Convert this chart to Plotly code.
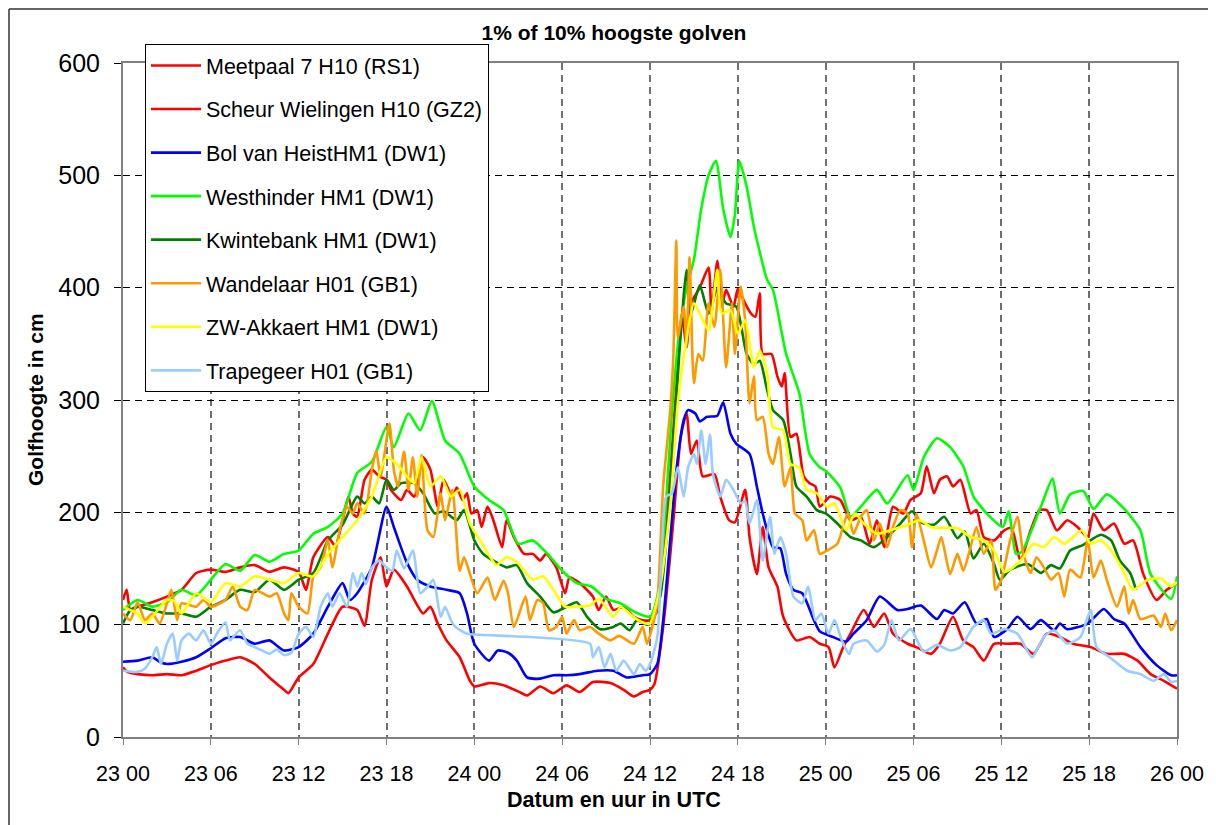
import plotly.graph_objects as go

# ---------------- data (hours since 23 00 UTC, wave height in cm) ----------------
tick_hours = [0, 6, 12, 18, 24, 30, 36, 42, 48, 54, 60, 66, 72]
tick_labels = ["23 00", "23 06", "23 12", "23 18", "24 00", "24 06", "24 12",
               "24 18", "25 00", "25 06", "25 12", "25 18", "26 00"]

meetpaal_t = [0, 0.25, 0.5, 1, 2, 3, 4, 5, 6, 7, 8, 9, 10, 11, 12, 12.5, 13, 14, 14.5, 15, 15.4, 15.7,
              16, 16.5, 17, 17.5, 18, 18.3, 19, 19.4, 19.9, 20.5, 21, 21.5, 21.9, 22.5, 22.8, 23.2, 23.5,
              23.8, 24.2, 24.5, 24.9, 25.3, 25.9, 26.2, 26.7, 27.4, 28, 28.5, 28.9, 29.6, 30.2, 30.5, 31.2,
              32.1, 32.5, 33, 33.5, 34.2, 34.9, 35.5, 36, 36.5, 36.9, 37.4, 37.8, 38.2, 38.5, 38.8, 39.4,
              40, 40.2, 40.6, 40.9, 41.2, 41.7, 42, 42.5, 42.9, 43.2, 43.5, 43.7, 44.3, 44.7, 45, 45.2,
              45.6, 46, 46.5, 46.9, 47.3, 47.6, 48.3, 49, 49.7, 50.4, 51, 51.5, 52, 52.6, 53.3, 53.8, 54.5,
              54.9, 55.4, 55.8, 56.3, 56.7, 57.2, 57.9, 58.3, 58.8, 59.5, 60.2, 60.7, 61.3, 62, 62.6, 63.1,
              63.8, 64.5, 65.2, 65.9, 66.3, 67, 67.7, 68.4, 69, 69.7, 70.6, 71.3, 72]
meetpaal_v = [122, 131, 113, 116, 120, 125, 131, 146, 149, 147, 151, 153, 147, 151, 147, 131, 160, 178, 170, 193, 214, 199,
              196, 229, 238, 232, 229, 220, 211, 220, 214, 249, 238, 205, 229, 214, 222, 211, 217,
              199, 202, 187, 205, 193, 169, 193, 178, 163, 163, 157, 163, 151, 128, 142, 137,
              125, 113, 125, 113, 116, 107, 104, 104, 112, 163, 237, 312, 374, 347, 386, 400,
              418, 377, 424, 383, 398, 383, 399, 386, 377, 374, 395, 341, 341, 321, 312, 324,
              267, 270, 232, 226, 223, 205, 214, 211, 193, 196, 172, 193, 169, 205, 199, 211, 217,
              241, 217, 229, 232, 223, 229, 199, 202, 178, 175, 184, 186, 157, 184, 202, 202,
              184, 193, 187, 178, 199, 184, 190, 172, 175, 145, 122, 131, 137]

scheur_t = [0, 0.3, 1, 2, 3, 4, 5, 6, 7, 8, 9, 10, 11, 11.3, 12, 13, 14, 15, 16, 16.5, 17, 17.6, 18, 18.5,
            19.4, 19.9, 20.5, 21, 21.5, 22.1, 23, 23.7, 24, 25, 26, 27.1, 27.6, 28.5, 29.4, 30.3, 31.2, 32.1,
            33.3, 34.2, 34.9, 35.5, 36, 36.3, 36.9, 37.6, 38.1, 38.5, 38.8, 39.2, 39.6, 40.4, 40.8, 41.4,
            41.8, 42.5, 42.8, 43.3, 43.7, 44.1, 44.7, 45.1, 46, 46.9, 47.6, 48.2, 48.6, 49.2, 49.7, 50.6,
            51.3, 52, 52.6, 53.6, 54.2, 55.2, 55.8, 56.7, 57.4, 58.1, 58.8, 59.5, 60.4, 61.3, 62.2, 63.1,
            64, 64.9, 66.1, 67.2, 68.4, 69.3, 70.2, 71.1, 72]
scheur_v = [62, 58, 56, 55, 56, 55, 59, 64, 68, 71, 65, 53, 42, 39, 53, 65, 92, 116, 113, 99, 140, 160, 134, 149,
            134, 122, 110, 116, 101, 86, 71, 50, 45, 48, 46, 40, 37, 45, 39, 46, 40, 49,
            48, 42, 36, 40, 42, 47, 98, 193, 267, 288, 252, 264, 232, 234, 214, 193,
            191, 220, 178, 145, 187, 151, 134, 107, 86, 89, 83, 80, 62, 80, 92, 113,
            98, 110, 92, 83, 80, 74, 83, 107, 86, 80, 68, 83, 83, 83, 74, 92,
            89, 83, 80, 74, 74, 68, 56, 50, 43]

heist_t = [0, 1, 2, 2.5, 3, 4, 5, 6, 7, 8, 9, 10, 11, 12, 13, 14, 15, 15.5, 16, 17, 18, 18.5, 19.4, 20.1, 21,
           22.1, 23, 23.5, 24, 25, 25.6, 26.3, 26.9, 27.6, 28.5, 29.4, 30.3, 31.2, 32.4, 33.5, 34.4, 35.5, 36,
           36.5, 36.9, 37.4, 37.8, 38.3, 38.6, 39.1, 39.4, 39.9, 40.6, 41, 41.5, 41.9, 42.8, 43.3, 43.7, 44.4,
           44.9, 45.3, 45.8, 46.4, 47.2, 47.6, 48.5, 49.4, 49.9, 50.8, 51.7, 52.9, 53.6, 54.5, 55.6, 56.1,
           56.7, 57.5, 58.3, 59, 59.5, 60.4, 61.1, 62, 62.7, 63.6, 64, 64.5, 65.9, 67, 67.7, 68.4, 69.5,
           70.6, 71.6, 72]
heist_v = [67, 68, 71, 67, 65, 67, 71, 79, 88, 89, 83, 86, 77, 80, 92, 116, 137, 122, 128, 151, 205, 187, 155, 140, 134,
           131, 128, 110, 83, 68, 77, 75, 68, 53, 52, 55, 55, 56, 59, 59, 53, 55, 56,
           65, 104, 178, 237, 282, 291, 288, 281, 285, 286, 298, 270, 261, 252, 223, 199, 169,
           168, 145, 131, 128, 104, 94, 89, 85, 92, 104, 125, 113, 114, 117, 105, 113,
           110, 120, 101, 105, 89, 96, 107, 96, 104, 95, 101, 96, 101, 114, 105, 101, 80,
           64, 55, 55]

westhinder_t = [0, 1, 2, 3, 4, 5, 6, 7, 8, 9, 10, 11, 12, 13, 14, 15, 16, 17, 18, 18.5, 19.5, 20.3, 21.1, 22,
                23, 24, 25, 26, 27, 28, 29, 30, 31, 32, 33, 34, 35, 36, 36.5, 37, 37.5, 38, 38.5, 39, 39.5,
                40, 40.5, 41, 41.5, 41.8, 42.1, 42.6, 43.1, 44, 44.4, 45.3, 46.2, 46.9, 47.6, 48, 49, 49.7,
                50.4, 51.5, 52.2, 53.6, 54, 54.7, 55.6, 56.5, 57.4, 58.1, 59, 60.1, 60.5, 61, 61.4, 62.7,
                63.5, 64, 64.7, 65.6, 66.3, 67.2, 68.4, 69.5, 70.2, 71.6, 72]
westhinder_v = [113, 122, 116, 120, 131, 126, 140, 154, 148, 162, 156, 163, 166, 181, 187, 199, 235, 245, 276, 258, 288, 273, 299, 264,
                252, 223, 211, 202, 172, 175, 163, 148, 137, 134, 123, 119, 111, 107, 125, 190, 290, 360, 400, 425, 470,
                500, 513, 470, 445, 465, 513, 490, 454, 407, 398, 341, 306, 252, 240, 237, 222, 196,
                205, 220, 208, 233, 220, 249, 266, 258, 241, 214, 199, 187, 201, 163, 165, 205,
                230, 199, 216, 219, 203, 216, 203, 184, 145, 123, 143]

kwinte_t = [0, 0.5, 1, 2, 3, 4, 5, 6, 7, 8, 9, 10, 11, 12, 13, 14, 15, 16, 16.5, 17, 17.5, 18, 18.5, 19, 19.9,
            20.5, 21.3, 21.9, 22.8, 23.3, 24, 24.6, 25.3, 26.2, 26.9, 27.6, 28.5, 29.4, 30.3, 31, 31.7, 32.6,
            33.5, 34, 34.6, 35.1, 35.8, 36, 36.7, 37.4, 38, 38.5, 38.8, 39.4, 40, 40.6, 41.2, 41.9, 42.6,
            43.1, 43.5, 44, 44.4, 45.1, 45.6, 46, 46.7, 47.4, 48, 48.8, 49.7, 50.4, 51.3, 52.2, 53.1, 53.9,
            54.5, 55.4, 56.1, 57, 57.5, 58.1, 58.8, 59.5, 59.9, 60.6, 61.8, 62.7, 63.4, 64, 64.7, 65.6,
            66.8, 67.5, 68.1, 68.8, 69.2]
kwinte_v = [101, 113, 116, 113, 110, 110, 107, 116, 122, 131, 129, 140, 131, 140, 146, 175, 189, 214, 208, 214, 208, 229, 220, 226, 226,
            217, 199, 201, 193, 202, 175, 163, 157, 151, 153, 137, 125, 111, 116, 120, 107, 96,
            98, 101, 95, 104, 100, 101, 125, 223, 341, 416, 377, 402, 377, 399, 386, 383, 341,
            332, 335, 309, 291, 282, 252, 223, 214, 202, 199, 190, 178, 175, 169, 178, 190, 201,
            191, 189, 196, 177, 183, 159, 172, 154, 140, 149, 154, 146, 153, 150, 166, 171,
            180, 175, 157, 146, 131]

wandelaar_t = [0, 0.5, 1, 1.5, 2, 2.5, 3, 3.3, 3.7, 4, 5, 5.5, 6, 7, 7.5, 8, 8.5, 9, 10, 10.5, 11, 11.3, 11.5,
               12, 12.6, 13, 13.5, 14, 14.3, 14.8, 15.3, 15.7, 16, 16.5, 17, 17.3, 17.6, 18.2, 18.5, 18.8,
               19.2, 19.5, 19.8, 20.1, 20.4, 20.8, 21.2, 21.7, 22, 22.5, 23, 23.3, 24.2, 24.9, 25.4, 26,
               26.3, 26.7, 27.5, 27.8, 28.3, 28.7, 29.1, 29.6, 30, 30.3, 30.8, 31.2, 31.9, 32.5, 33.3,
               33.9, 34.9, 35.5, 35.8, 36.2, 36.5, 36.9, 37.4, 37.6, 37.8, 37.9, 38.3, 38.5, 38.7, 39,
               39.3, 39.6, 40, 40.4, 40.8, 41.2, 41.6, 41.8, 42.2, 42.5, 42.8, 43.1, 43.3, 43.7, 44.1,
               44.4, 44.8, 45.2, 45.6, 45.9, 46.4, 46.7, 47.2, 47.6, 48.1, 48.8, 49.5, 49.9, 50.4, 50.8,
               51.3, 51.7, 52.2, 52.6, 53.1, 53.6, 53.9, 54.2, 54.7, 55.2, 55.6, 55.9, 56.5, 57, 57.4,
               57.9, 58.3, 58.8, 59.3, 59.6, 60, 60.6, 61.1, 61.5, 62, 62.4, 62.9, 63.4, 63.9, 64.3,
               64.7, 65.4, 65.9, 66.3, 66.8, 67.2, 67.9, 68.4, 68.7, 69, 69.5, 70.4, 70.9, 71.2, 71.6, 72]
wandelaar_v = [110, 104, 120, 104, 110, 101, 119, 131, 104, 119, 116, 122, 116, 122, 134, 116, 113, 131, 125, 128, 110, 104, 128,
               116, 110, 143, 151, 175, 151, 184, 205, 199, 208, 199, 238, 255, 232, 279, 238, 223,
               254, 220, 249, 214, 251, 184, 178, 217, 193, 220, 148, 160, 128, 142, 122, 139,
               128, 98, 125, 104, 122, 119, 95, 98, 107, 92, 104, 95, 98, 92, 86,
               90, 83, 98, 83, 100, 119, 223, 294, 341, 442, 356, 383, 347, 427, 315,
               341, 335, 386, 365, 416, 329, 386, 341, 401, 371, 297, 321, 282, 285, 252,
               243, 267, 223, 240, 199, 193, 175, 184, 163, 166, 172, 199, 181, 196, 202,
               175, 190, 169, 187, 202, 199, 169, 199, 175, 151, 166, 178, 145, 163, 148,
               169, 187, 163, 175, 131, 140, 175, 196, 163, 146, 160, 151, 140, 146, 125,
               149, 142, 175, 142, 157, 140, 116, 134, 110, 122, 105, 108, 98, 110, 95, 104]

akkaert_t = [0, 0.5, 1, 1.5, 2, 3, 3.5, 4, 5, 6, 7, 8, 9, 10, 11, 12, 13, 14, 15, 16, 17, 18, 18.7, 19.4, 19.9,
             20.4, 21, 21.7, 22.4, 23, 23.7, 24.4, 25.1, 25.5, 26.2, 26.9, 27.4, 28, 28.7, 29.4, 30.2, 31,
             31.9, 32.5, 33.5, 34, 34.6, 35.2, 35.7, 36, 36.7, 37.4, 37.9, 38.4, 39, 39.4, 40, 40.6, 40.9,
             41.5, 42, 42.5, 43.1, 43.5, 44, 44.4, 45.1, 45.6, 46.2, 46.7, 47.4, 48.1, 48.6, 49.4, 50,
             50.6, 51.5, 52.4, 53.6, 54.4, 55.2, 55.8, 57, 57.9, 58.8, 59.5, 60.2, 60.8, 61.5, 62.2, 62.9,
             63.6, 64.3, 64.9, 65.5, 66.1, 66.8, 67.5, 68.4, 69, 70, 70.9, 71.6, 72]
akkaert_v = [116, 113, 110, 101, 107, 122, 121, 110, 128, 120, 137, 134, 143, 140, 137, 146, 143, 163, 178, 193, 214, 249, 243, 232, 226,
             249, 223, 232, 214, 220, 190, 175, 160, 153, 160, 156, 148, 140, 143, 131, 116, 116,
             117, 123, 107, 116, 110, 104, 101, 101, 134, 208, 297, 347, 386, 377, 362, 416, 377,
             380, 359, 371, 329, 344, 324, 276, 273, 243, 240, 220, 217, 205, 208, 184, 199,
             190, 181, 184, 189, 193, 187, 186, 186, 178, 175, 166, 147, 151, 160, 172, 169,
             178, 172, 178, 184, 172, 175, 166, 146, 131, 140, 141, 134, 138]

trapegeer_t = [0, 1, 1.5, 2, 2.3, 2.6, 3, 3.4, 3.7, 4, 4.5, 5, 5.5, 6, 6.5, 7, 7.3, 7.6, 8, 8.5, 9, 9.5, 10,
               10.5, 11, 11.5, 12, 12.5, 13, 13.5, 14, 14.3, 14.8, 15.3, 15.7, 16, 16.3, 16.6, 17, 17.5, 18,
               18.4, 18.7, 19.2, 19.8, 20.3, 20.8, 21.2, 21.7, 22, 22.4, 22.7, 23.5, 24.4, 31.9, 32.1, 32.5,
               32.9, 33.3, 33.7, 34.2, 34.9, 35.3, 35.7, 36, 36.5, 36.8, 37.1, 37.5, 37.9, 38.3, 38.6, 39,
               39.2, 39.5, 39.8, 40.1, 40.3, 40.8, 41.2, 41.7, 42.2, 42.5, 42.8, 43.3, 43.7, 44.2, 44.5,
               44.9, 45.3, 45.8, 46.4, 46.8, 47.3, 47.7, 48.2, 48.6, 49.1, 49.6, 49.9, 50.8, 51.5, 52, 52.5,
               53, 53.8, 54.7, 55.6, 56.5, 57.2, 58.1, 58.8, 59.3, 60.2, 61.1, 62.1, 62.9, 63.6, 64.5, 65.4,
               66.1, 66.5, 67.4, 68.6, 69.5, 70.4, 71.1, 71.6, 72]
trapegeer_v = [59, 58, 61, 71, 80, 65, 83, 92, 68, 86, 92, 86, 95, 83, 94, 102, 86, 90, 95, 83, 80, 77, 74,
               78, 73, 75, 92, 98, 89, 116, 128, 116, 128, 116, 146, 134, 146, 136, 151, 157, 151,
               148, 166, 150, 166, 128, 134, 140, 107, 116, 104, 98, 92, 91, 83, 71, 80,
               62, 74, 59, 68, 56, 65, 59, 65, 89, 163, 214, 217, 240, 214, 240, 252,
               243, 273, 243, 269, 234, 214, 229, 220, 208, 210, 190, 211, 157, 196, 163,
               178, 163, 125, 119, 134, 104, 110, 92, 104, 86, 74, 83, 86, 76, 82, 104,
               86, 96, 76, 82, 77, 80, 98, 104, 92, 96, 92, 71, 89, 95, 83, 89,
               113, 80, 71, 59, 56, 50, 56, 49, 50]

series_names = ["Meetpaal 7 H10 (RS1)", "Scheur Wielingen H10 (GZ2)", "Bol van HeistHM1 (DW1)",
                "Westhinder HM1 (DW1)", "Kwintebank HM1 (DW1)", "Wandelaar H01 (GB1)",
                "ZW-Akkaert HM1 (DW1)", "Trapegeer H01 (GB1)"]
series_colors = ["#FF0000", "#FF0000", "#0000FF", "#00FF00", "#008000", "#FF9900", "#FFFF00", "#99CCFF"]
series_data = [(meetpaal_t, meetpaal_v), (scheur_t, scheur_v), (heist_t, heist_v),
               (westhinder_t, westhinder_v), (kwinte_t, kwinte_v), (wandelaar_t, wandelaar_v),
               (akkaert_t, akkaert_v), (trapegeer_t, trapegeer_v)]

for n, (t, v) in zip(series_names, series_data):
    assert len(t) == len(v), (n, len(t), len(v))

# ---------------- layout helpers (page pixel -> paper) ----------------
OFF = 8                      # default page margin around the figure
W, H = 1216 - OFF, 825 - OFF
L, T = 123 - OFF, 63 - OFF   # plot area: x 123..1177, y 63..737 on the page
R = W - (1177 - OFF)
B = H - (737 - OFF)
PW, PH = W - L - R, H - T - B


def px(x):
    return (x - OFF - L) / PW


def py(y):
    return (H - B - (y - OFF)) / PH


FONT = "Liberation Sans, Arial, sans-serif"

fig = go.Figure()
for i, (name, color, (t, v)) in enumerate(zip(series_names, series_colors, series_data)):
    fig.add_trace(go.Scatter(
        x=t, y=v, mode="lines", name=name, legendgroup=f"g{i}",
        line=dict(color=color, width=2.6, shape="spline", smoothing=0.6),
    ))

fig.update_layout(
    width=W, height=H,
    margin=dict(l=L, r=R, t=T, b=B, autoexpand=False),
    paper_bgcolor="white", plot_bgcolor="white",
    font=dict(family=FONT, color="black"),
    title=dict(text="<b>1% of 10% hoogste golven</b>", font=dict(size=21, family=FONT),
               x=(614 - OFF) / W, xanchor="center", xref="container",
               y=1 - (33 - OFF) / H, yanchor="middle", yref="container"),
    showlegend=True,
    legend=dict(x=px(145), y=py(44), xanchor="left", yanchor="top",
                bgcolor="white", bordercolor="black", borderwidth=1,
                font=dict(size=21.5, family=FONT), tracegroupgap=12.6,
                itemwidth=50),
    xaxis=dict(range=[0, 72], tickvals=tick_hours, ticktext=tick_labels,
               showgrid=True, gridcolor="#707070", gridwidth=1.5, griddash="7px,5px",
               showline=True, linecolor="#808080", linewidth=2, mirror=True,
               ticks="outside", ticklen=6, tickcolor="#808080", tickwidth=1,
               tickfont=dict(size=21.5, family=FONT), ticklabelstandoff=10, zeroline=False),
    yaxis=dict(range=[0, 600], dtick=100, tick0=0,
               showgrid=True, gridcolor="#000000", gridwidth=1, griddash="7px,5px",
               showline=True, linecolor="#808080", linewidth=2, mirror=True,
               ticks="outside", ticklen=7, tickcolor="#000000", tickwidth=1,
               tickfont=dict(size=25, family=FONT), ticklabelstandoff=9, zeroline=False),
)

# axis titles
fig.add_annotation(text="<b>Golfhoogte in cm</b>", textangle=-90, x=px(35), y=0.5,
                   xref="paper", yref="paper", showarrow=False, xanchor="center", yanchor="middle",
                   font=dict(size=21, family=FONT))
fig.add_annotation(text="<b>Datum en uur in UTC</b>", x=px(614), y=py(800),
                   xref="paper", yref="paper", showarrow=False, xanchor="center", yanchor="middle",
                   font=dict(size=21.5, family=FONT))

# outer frame (left and top edges of the surrounding box)
fig.add_shape(type="line", xref="paper", yref="paper", x0=px(9), x1=px(9), y0=py(9), y1=py(840),
              line=dict(color="#333333", width=1.5))
fig.add_shape(type="line", xref="paper", yref="paper", x0=px(9), x1=px(1230), y0=py(9), y1=py(9),
              line=dict(color="#333333", width=1.5))

fig.write_html("out.html")
